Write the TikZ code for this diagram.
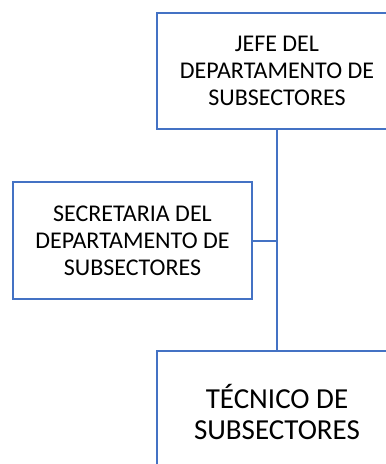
\documentclass[tikz,border=0pt]{standalone}
\usepackage{fontspec}
\setmainfont{Carlito}
\usepackage{xcolor}
\usepackage{tikz}
\definecolor{cargo}{RGB}{68,114,196}
\tikzset{
	puesto/.style={draw=cargo,line width=2pt,fill=white,align=center,inner sep=0pt,minimum width=240pt,minimum height=116pt,font=\fontsize{24}{27}\selectfont},
	enlace/.style={draw=cargo,line width=2pt}
}

\begin{document}
\begin{tikzpicture}[x=1pt,y=1pt]
	\useasboundingbox (0,0) rectangle (386,-464);
	\begin{scope}
	\clip (0,0) rectangle (386,-464);
	\node[puesto] (jefe) at (277,-71) {JEFE DEL\\DEPARTAMENTO DE\\SUBSECTORES};
	\node[puesto,minimum width=239pt,minimum height=117pt] (secre) at (132.5,-240.5) {SECRETARIA DEL\\DEPARTAMENTO DE\\SUBSECTORES};
	\node[puesto,minimum height=122pt,font=\fontsize{29}{31}\selectfont] (tecnico) at (277,-412) {TÉCNICO DE\\SUBSECTORES};
		\draw[enlace] (jefe.south) -- (tecnico.north);
		\draw[enlace] (secre.east) -- (secre.east -| jefe.south);
	\end{scope}
\end{tikzpicture}
\end{document}
